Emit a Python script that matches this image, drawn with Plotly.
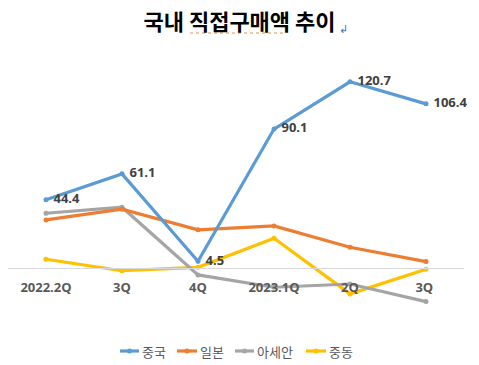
import plotly.graph_objects as go

categories = ["2022.2Q", "3Q", "4Q", "2023.1Q", "2Q", "3Q "]
china = [44.4, 61.1, 4.5, 90.1, 120.7, 106.4]
japan = [31.3, 38.2, 24.9, 27.4, 13.6, 4.3]
asean = [35.6, 39.5, -4.3, -12.3, -10.2, -21.6]
mideast = [5.8, -1.6, 0.6, 19.4, -16.6, -0.6]
china_labels = ["44.4", "61.1", "4.5", "90.1", "120.7", "106.4"]

series_names = ["중국", "일본", "아세안", "중동"]
series_values = [china, japan, asean, mideast]
series_colors = ["#5b9bd5", "#ed7d31", "#a5a5a5", "#ffc000"]

# plot area in pixels (for converting legend positions)
L, R, T, B = 8, 464, 60, 320
W, H = 479, 365


def px_x(p):
    return (p - L) / (R - L)


def px_y(p):
    return (B - p) / (B - T)


fig = go.Figure()
for name, vals, color in reversed(list(zip(series_names, series_values, series_colors))):
    if name == "중국":
        kw = dict(mode="lines+markers+text", text=china_labels, textposition="middle right",
                  texttemplate=" %{text}",
                  textfont=dict(family="Open Sans", size=13, color="#404040", weight="bold"))
    else:
        kw = dict(mode="lines+markers")
    fig.add_trace(go.Scatter(x=categories, y=vals, name=name, showlegend=False,
                             line=dict(color=color, width=3.2),
                             marker=dict(size=5, color=color), cliponaxis=False, **kw))

fig.update_layout(
    width=W, height=H,
    margin=dict(l=L, r=W - R, t=T, b=H - B, autoexpand=False),
    paper_bgcolor="white", plot_bgcolor="white",
    showlegend=False,
    title=dict(text="국내 직접구매액 추이", x=0.5, xanchor="center", y=0.94, yanchor="middle",
               font=dict(family="Noto Sans CJK KR", size=22, color="#000000", weight="bold")),
    xaxis=dict(type="category", range=[-0.5, 5.5], anchor="free", position=px_y(268.3),
               showline=True, linecolor="#d9d9d9", linewidth=1, showgrid=False,
               ticks="", ticklabelstandoff=7,
               tickfont=dict(family="Open Sans", size=13, color="#595959", weight="bold")),
    yaxis=dict(range=[-33.5, 134.8], visible=False, showgrid=False, zeroline=False),
)

# manual legend (compact symbols like the reference)
legend_line_x = [(120, 139), (177, 197), (235, 254), (306, 326)]
legend_y = 351
for (x0, x1), name, color in zip(legend_line_x, series_names, series_colors):
    fig.add_shape(type="line", xref="paper", yref="paper", x0=px_x(x0), x1=px_x(x1),
                  y0=px_y(legend_y), y1=px_y(legend_y), line=dict(color=color, width=3.2))
    xm = (x0 + x1) / 2
    fig.add_shape(type="circle", xref="paper", yref="paper",
                  x0=px_x(xm - 2.5), x1=px_x(xm + 2.5), y0=px_y(legend_y + 2.5), y1=px_y(legend_y - 2.5),
                  fillcolor=color, line=dict(color=color, width=0))
    fig.add_annotation(xref="paper", yref="paper", x=px_x(x1 + 1), y=px_y(legend_y), text=name,
                       showarrow=False, xanchor="left", yanchor="middle",
                       font=dict(family="Noto Sans CJK KR", size=13, color="#595959"))

fig.add_annotation(xref="paper", yref="paper", x=px_x(337), y=px_y(28), text="↲", showarrow=False,
                   font=dict(size=11, color="#4472c4"), xanchor="left", yanchor="middle")
fig.add_shape(type="line", xref="paper", yref="paper", x0=px_x(190), x1=px_x(285),
              y0=px_y(33), y1=px_y(33), line=dict(color="#d99a4e", width=1, dash="dot"))

fig.write_html("out.html", config={"displayModeBar": False},
               post_script="document.body.style.margin='0';")
